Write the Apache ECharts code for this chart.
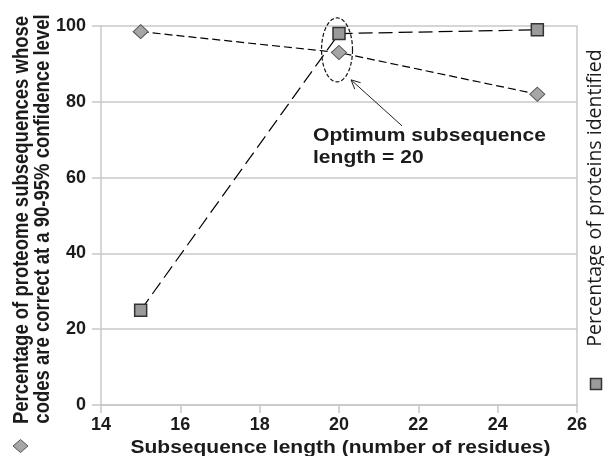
<!DOCTYPE html>
<html><head><meta charset="utf-8">
<script src="https://cdn.jsdelivr.net/npm/echarts@6/dist/echarts.min.js"></script>
<style>html,body{margin:0;padding:0;background:#fff}#c{width:604px;height:456px}</style>
</head><body><div id="c"></div>
<script>
const lengths = [15, 20, 25];
const correctPct = [98.5, 93, 82];      // diamonds, left axis
const identifiedPct = [25, 98, 99];     // squares, right axis
const xTicks = [14, 16, 18, 20, 22, 24, 26];
const yTicks = [0, 20, 40, 60, 80, 100];
const annotCenter = [19.95, 93.7];
const FONT = '"Liberation Sans", Arial, sans-serif';
const TXT = '#1b1b1b';
const GRID = '#c8c8c8';

const chart = echarts.init(document.getElementById('c'), null, {renderer: 'canvas'});
const option = {
  animation: false,
  grid: {left: 101, right: 27, top: 26, bottom: 51, containLabel: false},
  xAxis: {
    type: 'value', min: xTicks[0], max: xTicks[xTicks.length - 1], interval: 2,
    axisLine: {lineStyle: {color: GRID, width: 1.5}},
    axisTick: {show: true, length: 8, lineStyle: {color: GRID, width: 1.5}},
    splitLine: {show: false},
    axisLabel: {color: TXT, fontFamily: FONT, fontWeight: 'bold', fontSize: 18, margin: 11}
  },
  yAxis: [{
    type: 'value', min: yTicks[0], max: yTicks[yTicks.length - 1], interval: 20,
    axisLine: {show: true, lineStyle: {color: GRID, width: 1.5}},
    axisTick: {show: true, length: 9, lineStyle: {color: GRID, width: 1.5}},
    splitLine: {show: true, lineStyle: {color: GRID, width: 1.5}},
    axisLabel: {color: TXT, fontFamily: FONT, fontWeight: 'bold', fontSize: 18, margin: 15}
  }, {
    type: 'value', min: 0, max: 100, interval: 20, position: 'right',
    axisLine: {show: true, lineStyle: {color: GRID, width: 1.5}},
    axisTick: {show: false}, splitLine: {show: false}, axisLabel: {show: false}
  }],
  series: [{
    type: 'line', yAxisIndex: 0,
    data: lengths.map((x, i) => [x, correctPct[i]]),
    symbol: 'diamond', symbolSize: [15, 14],
    itemStyle: {color: '#a6a6a6', borderColor: '#555', borderWidth: 1},
    lineStyle: {color: '#000', width: 1.2, type: [8, 4]}
  }, {
    type: 'line', yAxisIndex: 1,
    data: lengths.map((x, i) => [x, identifiedPct[i]]),
    symbol: 'rect', symbolSize: 12,
    itemStyle: {color: '#9a9a9a', borderColor: '#333', borderWidth: 1.5},
    lineStyle: {color: '#000', width: 1.2, type: [14, 6]}
  }]
};
chart.setOption(option);

const c = chart.convertToPixel({xAxisIndex: 0, yAxisIndex: 0}, annotCenter);
const rx = 15.5, ry = 32;
const ell = [];
for (let k = 0; k < 72; k++) {
  const t = k / 72 * Math.PI * 2;
  ell.push([c[0] + rx * Math.cos(t), c[1] + ry * Math.sin(t)]);
}
const tip = [c[0] + 14, c[1] + 30];
const tail = [c[0] + 65, c[1] + 76];
const ang = Math.atan2(tail[1] - tip[1], tail[0] - tip[0]);
const hl = 10, ha = 0.45;
const head = [
  [tip[0] + hl * Math.cos(ang + ha), tip[1] + hl * Math.sin(ang + ha)],
  tip,
  [tip[0] + hl * Math.cos(ang - ha), tip[1] + hl * Math.sin(ang - ha)]
];

chart.setOption({
  graphic: [
    {type: 'polygon', shape: {points: ell}, style: {fill: 'none', stroke: '#111', lineWidth: 1.2, lineDash: [4, 2]}, z: 100},
    {type: 'line', shape: {x1: tail[0], y1: tail[1], x2: tip[0], y2: tip[1]}, style: {stroke: '#222', lineWidth: 1}, z: 100},
    {type: 'polyline', shape: {points: head}, style: {stroke: '#222', lineWidth: 1, fill: 'none'}, z: 100},
    {type: 'text', x: 313, y: 125, scaleX: 1.17, z: 100,
      style: {text: 'Optimum subsequence\nlength = 20', font: 'bold 18px ' + FONT, fill: TXT, lineHeight: 22, verticalAlign: 'top'}},
    {type: 'text', x: 22, y: 220, rotation: Math.PI / 2, scaleY: 1.15, z: 100,
      style: {text: 'Percentage of proteome subsequences whose', font: 'bold 18.5px ' + FONT, fill: TXT, align: 'center', verticalAlign: 'middle'}},
    {type: 'text', x: 43, y: 219, rotation: Math.PI / 2, scaleY: 1.15, z: 100,
      style: {text: 'codes are correct at a 90-95% confidence level', font: 'bold 18.5px ' + FONT, fill: TXT, align: 'center', verticalAlign: 'middle'}},
    {type: 'polygon', shape: {points: [[20.5, 439.5], [28, 446], [20.5, 452.5], [13, 446]]}, style: {fill: '#a6a6a6', stroke: '#555', lineWidth: 1}},
    {type: 'text', x: 595, y: 198, rotation: Math.PI / 2, z: 100,
      style: {text: 'Percentage of proteins identified', font: '19.5px "Open Sans", sans-serif', fill: TXT, align: 'center', verticalAlign: 'middle'}},
    {type: 'rect', shape: {x: 590.5, y: 378.5, width: 11, height: 11}, style: {fill: '#9a9a9a', stroke: '#333', lineWidth: 1.5}},
    {type: 'text', x: 340.5, y: 448, scaleX: 1.2, z: 100,
      style: {text: 'Subsequence length (number of residues)', font: 'bold 17.5px ' + FONT, fill: TXT, align: 'center', verticalAlign: 'middle'}}
  ]
});
</script></body></html>
